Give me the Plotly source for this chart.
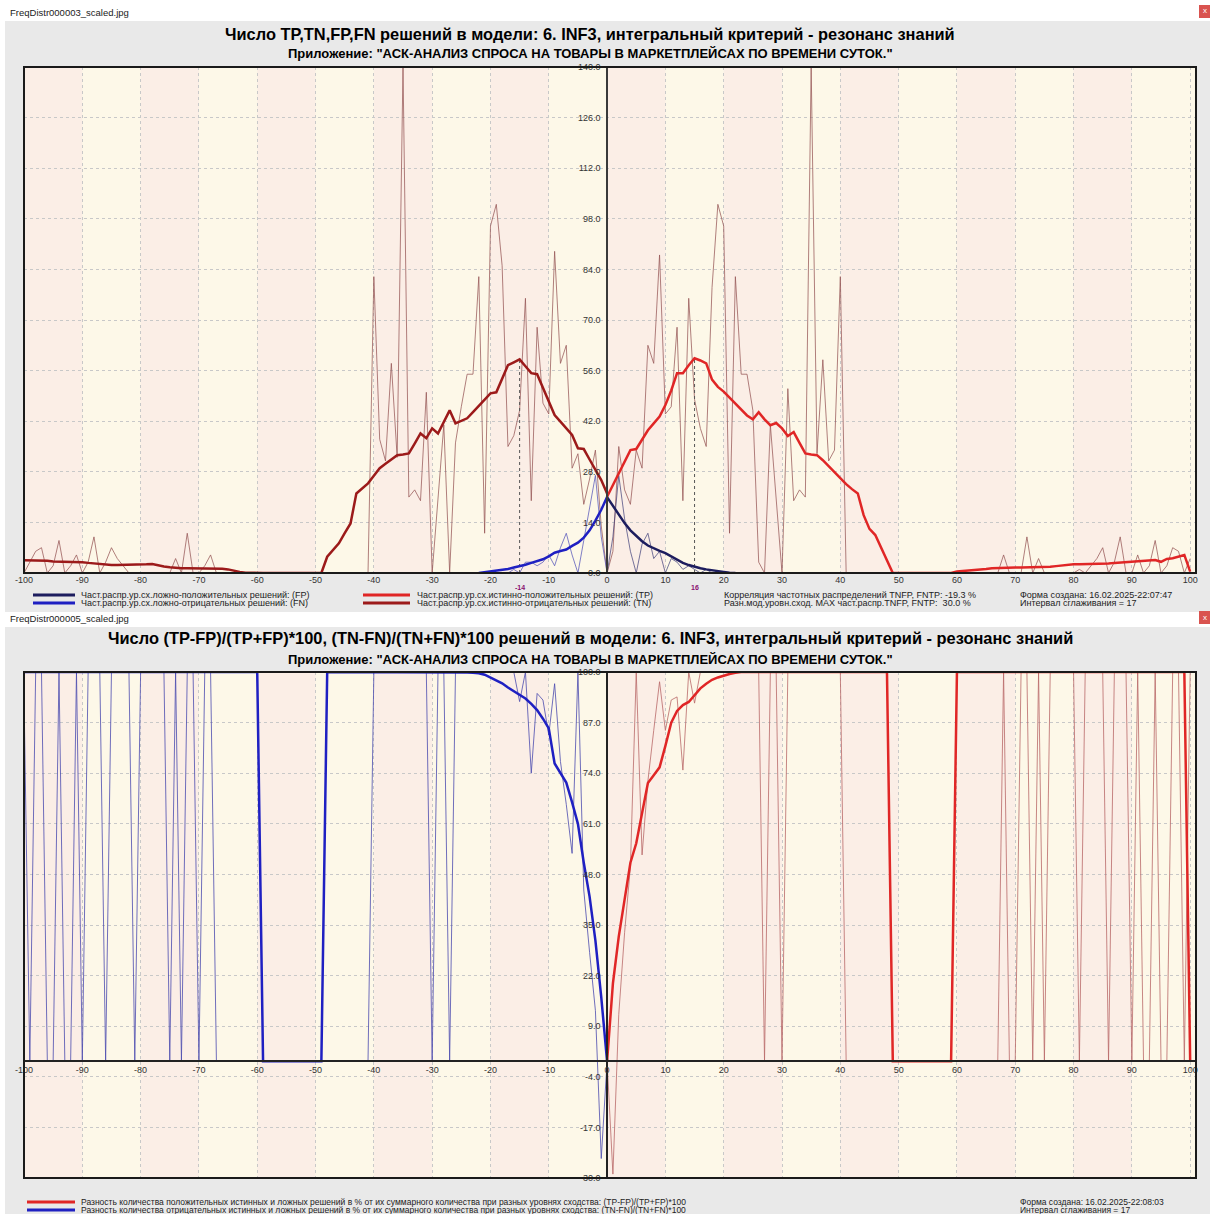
import plotly.graph_objects as go

# full page 1210x1214 (body margin removed in post_script)
OFF = 0
FW, FH = 1210, 1214

# ---------------- data: top chart (frequency distributions) ----------------
tn_x = list(range(-100, 1))
tn_raw = ([0, 3, 6, 7, 0, 2, 9, 0, 2, 5] +
          [0, 3, 10, 0, 3, 7, 4, 2, 0, 0] +
          [0, 0, 0, 0, 0, 0, 4, 0, 11, 0] +
          [0, 2, 5, 0, 0, 0, 0, 0, 0, 0] +
          [0] * 10 +
          [0] * 10 +
          [82, 37, 31, 58, 32, 140, 21, 23, 20, 50] +
          [0, 20, 41, 0, 36, 46, 55, 55, 82, 11] +
          [96, 102, 85, 35, 38, 45, 76, 20, 68, 47] +
          [44, 89, 58, 63, 29, 33, 19, 26, 34, 13] +
          [0])
tn_smooth = ([3.5, 3.5, 3.6, 3.6, 3.4, 3.2, 3.2, 3.2, 3.1, 3.1] +
             [3.0, 2.8, 2.6, 2.4, 2.2, 2.2, 2.2, 2.2, 2.2, 2.2] +
             [2.2, 2.4, 2.5, 2.1, 1.8, 1.6, 1.4, 1.3, 1.3, 1.3] +
             [1.3, 1.3, 1.3, 1.3, 1.2, 1.0, 0.6, 0.3, 0.1, 0] +
             [0] * 10 +
             [0, 0, 4.5, 6.3, 8.2, 11, 13.7, 22, 23.4, 24.8] +
             [26.9, 29, 30.2, 31.4, 32.6, 32.8, 33.1, 35.8, 38.6, 37.3] +
             [40, 38.6, 41.8, 45, 41.4, 42.1, 42.8, 44.5, 46.2, 48] +
             [49.7, 50, 53.7, 57.5, 58.3, 59.1, 57.2, 55.3, 55, 51.2] +
             [47.5, 43.7, 41.9, 40, 38.2, 34.5, 34.3, 31.4, 28.5, 25.7] +
             [22])

tp_x = list(range(0, 101))
tp_raw = ([0] +
          [6, 35, 23, 19, 34, 29, 63, 58, 88, 44] +
          [46, 68, 20, 76, 48, 40, 35, 79, 102, 96] +
          [11, 82, 55, 55, 45, 3, 0, 41, 20, 0] +
          [51, 20, 23, 21, 140, 33, 59, 31, 34, 82] +
          [0] * 10 +
          [0] * 10 +
          [0, 0, 0, 0, 0, 0, 0, 5, 0, 0] +
          [0, 10, 0, 4, 0, 0, 0, 0, 0, 0] +
          [1, 0, 2, 4, 7, 0, 3, 10, 0, 0] +
          [5, 0, 2, 9, 0, 2, 7, 6, 0, 4])
tp_smooth = ([21.1] +
             [24.4, 27.6, 30.8, 34, 34.3, 37, 39.5, 41.4, 43.3, 46.5] +
             [50.5, 55.3, 55.3, 57.5, 59.4, 58.8, 58, 53.5, 51.5, 50.2] +
             [48.6, 47, 45.3, 43.6, 42.5, 44.5, 42.5, 40.9, 41.5, 40] +
             [37.9, 39, 36, 33.1, 32.8, 32.6, 31.2, 29.5, 27.7, 26] +
             [24.6, 23.2, 22, 16, 12.2, 10.5, 7, 3.5, 0, 0] +
             [0, 0, 0, 0, 0, 0, 0, 0, 0, 0.4] +
             [0.5, 0.6, 0.7, 0.8, 1.1, 1.3, 1.4, 1.4, 1.5, 1.5] +
             [1.5, 1.5, 1.5, 1.5, 1.5, 1.7, 1.9, 2.1, 2.2, 2.4] +
             [2.4, 2.4, 2.4, 2.4, 2.4, 2.6, 2.8, 2.9, 3.1, 3.2] +
             [3.3, 3.4, 3.5, 3.6, 3.1, 3.9, 4.1, 4.5, 5, 0.4])

fn_x = list(range(-22, 1))
fn_raw = [0, 0, 0, 0, 0, 0, 1, 0, 3, 3, 2, 3, 5, 2, 7, 11, 5, 0, 9, 18, 27, 10, 0]
fn_smooth = [0, 0.2, 0.4, 0.6, 0.8, 1.1, 1.5, 1.8, 2.3, 2.8, 3.3, 3.8, 4.6,
             5.6, 6.1, 6.5, 7.5, 8.4, 9.8, 11.8, 14.5, 17.5, 21]

fp_x = list(range(0, 23))
fp_raw = [0, 10, 27, 15, 6, 0, 8, 11, 4, 6, 0, 4, 3, 1, 2, 1, 0, 1, 0, 0, 0, 0, 0]
fp_smooth = [21, 18.5, 16, 13.8, 11.8, 10.3, 8.8, 7.6, 6.8, 6.1, 5.5, 4.6,
             3.7, 2.8, 2.2, 1.7, 1.3, 1.0, 0.7, 0.5, 0.3, 0.1, 0]

peak_labels = ["-14", "16"]

# ---------------- data: bottom chart (percent differences) ----------------
neg_x = list(range(-100, 1))
neg_raw = ([94, 0, 100, 100, 0, 0, 100, 0, 0, 100] +
           [0, 100, 100, 100, 0, 100, 100, 100, 100, 0] +
           [100, 100, 100, 100, 100, 0, 100, 0, 100, 100] +
           [0, 100, 100, 0, 0, 0, 0, 0, 0, 0] +
           [0] * 10 +
           [0] * 10 +
           [100] * 10 +
           [0, 100, 100, 0, 100, 100, 100, 100, 100, 100] +
           [100, 100, 100, 100, 100, 92.4, 100, 74, 94.5, 92.8] +
           [83.8, 97, 77, 66, 53.4, 100, 44, 28, 13, -25] +
           [0])
neg_smooth = ([100] * 40 + [100] + [0] * 11 + [100] * 24 +
              [99.9, 99.8, 99.7, 99.3, 98.5, 97.8, 97.1, 96, 95, 94, 93.2, 91.8, 90.2, 88] +
              [85.5, 76.5, 74, 71.6, 66.5, 61, 51, 42.3, 31, 16.5] +
              [0])

pos_x = list(range(0, 101))
pos_raw = ([0] +
           [-29, 12, 33, 50, 100, 53, 72, 85, 97.5, 85] +
           [92.8, 93.6, 74.8, 100, 92, 100, 100, 100, 100, 100] +
           [100, 100, 100, 100, 100, 100, 0, 100, 100, 0] +
           [100] * 10 +
           [0] * 10 +
           [0] * 10 +
           [0, 0, 0, 0, 0, 0, 0, 100, 0, 0] +
           [100, 100, 0, 100, 0, 100, 100, 100, 100, 100] +
           [0, 100, 100, 100, 100, 0, 100, 100, 100, 0] +
           [100, 0, 0, 100, 0, 0, 100, 100, 0, 100])
pos_smooth = ([0, 20, 32, 42, 51, 56, 64, 71.5, 73.5, 75.5, 81] +
              [87, 90, 91.5, 92.3, 94, 95.8, 97, 98, 98.6, 99.1] +
              [99.5, 99.8] + [100] * 8 +
              [100] * 10 +
              [100] * 8 + [0, 0] +
              [0] * 9 + [100] +
              [100] * 30 +
              [100] * 9 + [0])

x_ticks = list(range(-100, 101, 10))
y1_ticks = list(range(0, 141, 14))
y2_ticks = list(range(-30, 101, 13))

# ---------------- layout geometry ----------------
FONT = "Liberation Sans Narrow, Liberation Sans, Arial"
TICKFONT = "Liberation Sans, Arial"


def px_x(p):
    return (p - OFF) / FW


def px_y(p):
    return 1 - (p - OFF) / FH


xdom = [px_x(24), px_x(1196)]
y1dom = [px_y(573), px_y(67)]
y2dom = [px_y(1178), px_y(672)]
XR = [-100, 101]
Y2R = [-30, 100]
x0_pos = xdom[0] + (0 - XR[0]) / (XR[1] - XR[0]) * (xdom[1] - xdom[0])
y2zero_pos = y2dom[0] + (0 - Y2R[0]) / (Y2R[1] - Y2R[0]) * (y2dom[1] - y2dom[0])

C_TN = "#9c1a1a"
C_TP = "#e02626"
C_FN = "#1f20c2"
C_FP = "#1d1d5e"
C_RAW_R = "rgba(150,85,85,0.75)"
C_RAW_B = "rgba(85,85,185,0.75)"

fig = go.Figure()

# top chart traces
fig.add_trace(go.Scatter(x=tn_x, y=tn_raw, mode="lines", line=dict(color=C_RAW_R, width=1), xaxis="x", yaxis="y"))
fig.add_trace(go.Scatter(x=tp_x, y=tp_raw, mode="lines", line=dict(color=C_RAW_R, width=1), xaxis="x", yaxis="y"))
fig.add_trace(go.Scatter(x=fn_x, y=fn_raw, mode="lines", line=dict(color=C_RAW_B, width=1), xaxis="x", yaxis="y"))
fig.add_trace(go.Scatter(x=fp_x, y=fp_raw, mode="lines", line=dict(color="rgba(60,60,120,0.7)", width=1), xaxis="x", yaxis="y"))

# peak markers (dotted)
i_tn = max(range(len(tn_smooth)), key=lambda i: tn_smooth[i])
i_tp = max(range(len(tp_smooth)), key=lambda i: tp_smooth[i])
peaks = [(tn_x[i_tn], tn_smooth[i_tn]), (tp_x[i_tp], tp_smooth[i_tp])]
for px_, py_ in peaks:
    fig.add_trace(go.Scatter(x=[px_, px_], y=[0, py_], mode="lines",
                             line=dict(color="#555555", width=1, dash="dot"), xaxis="x", yaxis="y"))

fig.add_trace(go.Scatter(x=tn_x, y=tn_smooth, mode="lines", line=dict(color=C_TN, width=2.5), xaxis="x", yaxis="y"))
fig.add_trace(go.Scatter(x=tp_x, y=tp_smooth, mode="lines", line=dict(color=C_TP, width=2.5), xaxis="x", yaxis="y"))
fig.add_trace(go.Scatter(x=fn_x, y=fn_smooth, mode="lines", line=dict(color=C_FN, width=2.5), xaxis="x", yaxis="y"))
fig.add_trace(go.Scatter(x=fp_x, y=fp_smooth, mode="lines", line=dict(color=C_FP, width=2.5), xaxis="x", yaxis="y"))

# bottom chart traces
fig.add_trace(go.Scatter(x=neg_x, y=neg_raw, mode="lines", line=dict(color="rgba(75,75,175,0.8)", width=1), xaxis="x2", yaxis="y2"))
fig.add_trace(go.Scatter(x=pos_x, y=pos_raw, mode="lines", line=dict(color="rgba(185,105,105,0.8)", width=1), xaxis="x2", yaxis="y2"))
fig.add_trace(go.Scatter(x=neg_x, y=neg_smooth, mode="lines", line=dict(color=C_FN, width=2.5), xaxis="x2", yaxis="y2"))
fig.add_trace(go.Scatter(x=pos_x, y=pos_smooth, mode="lines", line=dict(color=C_TP, width=2.5), xaxis="x2", yaxis="y2"))

axis_common = dict(showgrid=True, gridcolor="#c8c8c8", griddash="dot", gridwidth=1,
                   zeroline=False, ticks="", fixedrange=True, automargin=False,
                   tickfont=dict(family=TICKFONT, size=9, color="#333333"))

fig.update_layout(
    width=FW, height=FH, autosize=False,
    margin=dict(l=0, r=0, t=0, b=0, pad=0),
    paper_bgcolor="#e9e9e9",
    plot_bgcolor="#fdf8e8",
    showlegend=False,
    xaxis=dict(domain=xdom, range=XR, anchor="y", tickvals=x_ticks,
               ticktext=[str(v) for v in x_ticks], showline=False, **axis_common),
    yaxis=dict(domain=y1dom, range=[0, 140], anchor="free", position=x0_pos,
               tickvals=y1_ticks, ticktext=[f"{v:.1f}" for v in y1_ticks],
               showline=True, linecolor="#3a3a3a", linewidth=1.5, ticklabelstandoff=4,
               **axis_common),
    xaxis2=dict(domain=xdom, range=XR, anchor="free", position=y2zero_pos,
                tickvals=x_ticks, ticktext=[str(v) for v in x_ticks],
                showline=True, linecolor="#222222", linewidth=1.5, **axis_common),
    yaxis2=dict(domain=y2dom, range=Y2R, anchor="free", position=x0_pos,
                tickvals=y2_ticks, ticktext=[f"{v:.1f}" for v in y2_ticks],
                showline=True, linecolor="#222222", linewidth=1.5, ticklabelstandoff=4,
                **axis_common),
)

shapes = []
# white header bands and left strip
for (a, b) in [(0, 21), (612, 627)]:
    shapes.append(dict(type="rect", xref="paper", yref="paper", x0=-0.1, x1=1.1,
                       y0=px_y(b), y1=px_y(a), fillcolor="white", line=dict(width=0), layer="below"))
shapes.append(dict(type="rect", xref="paper", yref="paper", x0=-0.1, x1=px_x(5),
                   y0=-0.1, y1=1.1, fillcolor="white", line=dict(width=0), layer="below"))
# close buttons
for (a, b) in [(5, 18), (611, 624)]:
    shapes.append(dict(type="rect", xref="paper", yref="paper", x0=px_x(1199), x1=px_x(1210),
                       y0=px_y(b), y1=px_y(a), fillcolor="#d9534f", line=dict(width=0)))

# stripes + frames
for xa, ya in [("x", "y"), ("x2", "y2")]:
    for i in range(len(x_ticks) - 1):
        if i % 2 == 0:
            shapes.append(dict(type="rect", xref=xa, yref=f"{ya} domain",
                               x0=x_ticks[i], x1=x_ticks[i + 1], y0=0, y1=1,
                               fillcolor="#fbeee6", line=dict(width=0), layer="below"))
    shapes.append(dict(type="rect", xref=f"{xa} domain", yref=f"{ya} domain",
                       x0=0, x1=1, y0=0, y1=1, line=dict(color="#1a1a1a", width=2),
                       fillcolor="rgba(0,0,0,0)", layer="above"))

# legend swatches
leg_lines = [
    (33, 75, 595, C_FP), (33, 75, 603, C_FN),
    (363, 410, 595, C_TP), (363, 410, 603, C_TN),
    (27, 75, 1202, C_TP), (27, 75, 1210, C_FN),
]
for x0, x1, yy, c in leg_lines:
    shapes.append(dict(type="line", xref="paper", yref="paper", x0=px_x(x0), x1=px_x(x1),
                       y0=px_y(yy), y1=px_y(yy), line=dict(color=c, width=3)))
fig.update_layout(shapes=shapes)

ann = []


def text(x, y, s, size=9, color="#222222", bold=False, xanchor="left", family=FONT):
    ann.append(dict(x=px_x(x), y=px_y(y), xref="paper", yref="paper", text=s,
                    showarrow=False, xanchor=xanchor, yanchor="middle",
                    font=dict(family=family, size=size, color=color,
                              weight="bold" if bold else "normal")))


text(8, 12, "FreqDistr000003_scaled.jpg", size=9.5)
text(8, 618, "FreqDistr000005_scaled.jpg", size=9.5)
text(1204.5, 11, "x", size=8, color="white", xanchor="center")
text(1204.5, 617, "x", size=8, color="white", xanchor="center")

text(590, 34, "Число TP,TN,FP,FN решений в модели: 6. INF3, интегральный критерий - резонанс знаний",
     size=16.4, color="#000000", bold=True, xanchor="center")
text(590, 53, "Приложение: \"АСК-АНАЛИЗ СПРОСА НА ТОВАРЫ В МАРКЕТПЛЕЙСАХ ПО ВРЕМЕНИ СУТОК.\"",
     size=13, color="#000000", bold=True, xanchor="center")
text(590, 638, "Число (TP-FP)/(TP+FP)*100, (TN-FN)/(TN+FN)*100 решений в модели: 6. INF3, интегральный критерий - резонанс знаний",
     size=16.4, color="#000000", bold=True, xanchor="center")
text(590, 659, "Приложение: \"АСК-АНАЛИЗ СПРОСА НА ТОВАРЫ В МАРКЕТПЛЕЙСАХ ПО ВРЕМЕНИ СУТОК.\"",
     size=13, color="#000000", bold=True, xanchor="center")

text(79, 595, "Част.распр.ур.сх.ложно-положительных решений: (FP)")
text(79, 603, "Част.распр.ур.сх.ложно-отрицательных решений: (FN)")
text(415, 595, "Част.распр.ур.сх.истинно-положительных решений: (TP)")
text(415, 603, "Част.распр.ур.сх.истинно-отрицательных решений: (TN)")
text(722, 595, "Корреляция частотных распределений TNFP, FNTP: -19.3 %")
text(722, 603, "Разн.мод.уровн.сход. MAX част.распр.TNFP, FNTP:  30.0 %")
text(1018, 595, "Форма создана: 16.02.2025-22:07:47")
text(1018, 603, "Интервал сглаживания = 17")

text(79, 1202, "Разность количества положительных истинных и ложных решений в % от их суммарного количества при разных уровнях сходства: (TP-FP)/(TP+FP)*100", size=8.5)
text(79, 1210, "Разность количества отрицательных истинных и ложных решений в % от их суммарного количества при разных уровнях сходства: (TN-FN)/(TN+FN)*100", size=8.5)
text(1018, 1202, "Форма создана: 16.02.2025-22:08:03", size=8.5)
text(1018, 1210, "Интервал сглаживания = 17", size=8.5)

for (px_, _), lab in zip(peaks, peak_labels):
    ann.append(dict(x=px_, y=px_y(587), xref="x", yref="paper", text=lab, showarrow=False,
                    xanchor="center", yanchor="middle",
                    font=dict(family=TICKFONT, size=7, color="#8a1070", weight="bold")))

fig.update_layout(annotations=ann)

fig.write_html("out.html", include_plotlyjs=True, config={"displayModeBar": False},
               post_script="document.body.style.margin='0';document.body.style.overflow='hidden';")
